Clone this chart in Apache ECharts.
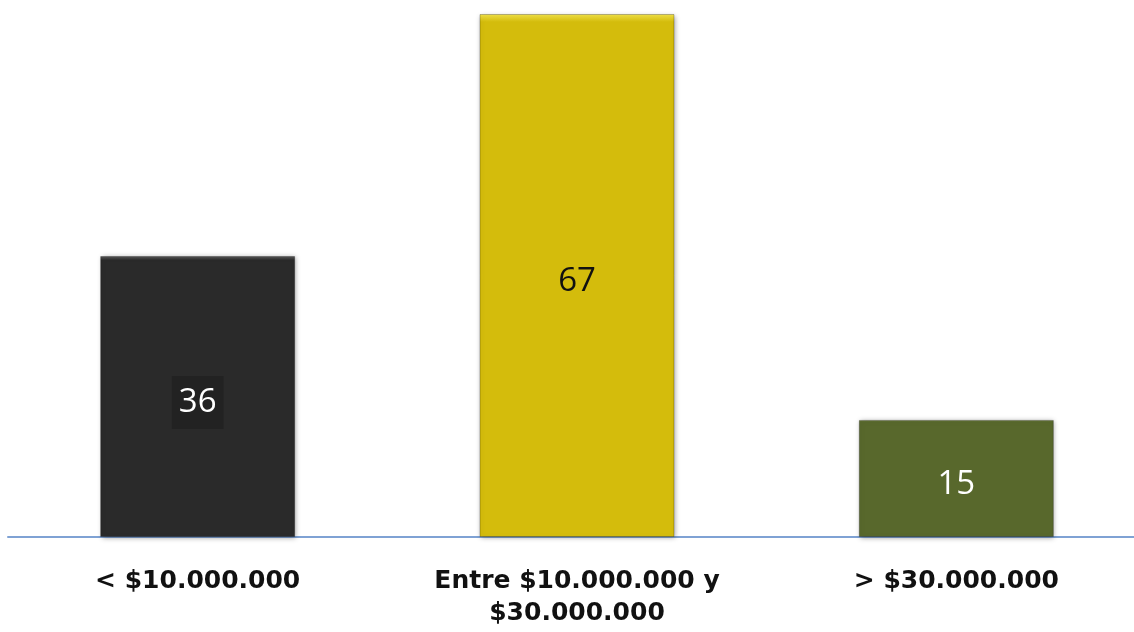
<!DOCTYPE html>
<html>
<head>
<meta charset="utf-8">
<script src="https://cdn.jsdelivr.net/npm/echarts@6/dist/echarts.min.js"></script>
<style>
  html, body { margin: 0; padding: 0; background: #ffffff; overflow: hidden; }
  #chart { width: 1146px; height: 632px; }
</style>
</head>
<body>
<div id="chart"></div>
<script>
// Rangos de monto y número de casos en cada uno
const categories = ['< $10.000.000', 'Entre $10.000.000 y\n$30.000.000', '> $30.000.000'];
const values = [36, 67, 15];
const barColors = ['#2a2a2a', '#d4bc0c', '#58682c'];
const labelColors = ['#ffffff', '#111111', '#ffffff'];
const lights = ['#5a5a5a', '#f2e34a', '#7d8f4a'];

// Relleno con un borde superior más claro (efecto biselado)
function bevel(base, light) {
  return {
    type: 'linear', x: 0, y: 0, x2: 0, y2: 1,
    colorStops: [
      { offset: 0, color: light },
      { offset: 0.015, color: base },
      { offset: 1, color: base }
    ]
  };
}

const chart = echarts.init(document.getElementById('chart'));
chart.setOption({
  animation: false,
  grid: { left: 8, right: 0, top: 14, bottom: 95 },
  xAxis: {
    type: 'category',
    data: categories,
    axisLine: { lineStyle: { color: '#7fa2d4', width: 2 } },
    axisTick: { show: false },
    axisLabel: {
      interval: 0,
      margin: 28,
      fontFamily: 'DejaVu Sans',
      fontWeight: 'bold',
      fontSize: 25,
      lineHeight: 32,
      color: '#111111'
    }
  },
  yAxis: {
    type: 'value',
    min: 0,
    max: 67,
    show: false,
    splitLine: { show: false }
  },
  series: [{
    type: 'bar',
    barWidth: 195,
    data: values.map((v, i) => ({
      value: v,
      itemStyle: {
        color: bevel(barColors[i], lights[i]),
        borderColor: 'rgba(0,0,0,0.25)',
        borderWidth: 1,
        shadowColor: 'rgba(0,0,0,0.35)',
        shadowBlur: 5,
        shadowOffsetX: 1,
        shadowOffsetY: 1
      },
      label: {
        show: true,
        position: 'inside',
        offset: [0, 6],
        color: labelColors[i],
        fontFamily: 'Open Sans',
        fontSize: 33,
        backgroundColor: i === 0 ? '#222222' : 'transparent',
        padding: i === 0 ? [10, 7, 10, 7] : 0
      }
    }))
  }]
});
</script>
</body>
</html>
